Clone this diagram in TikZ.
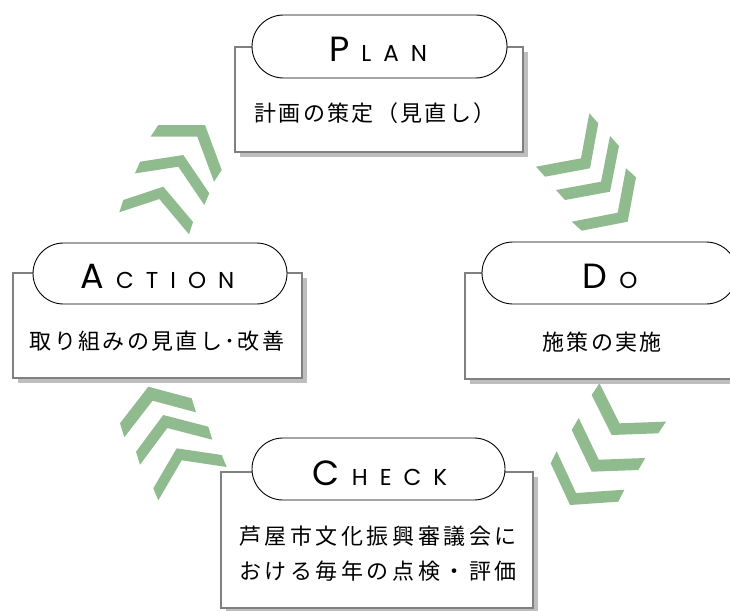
\documentclass[tikz,border=0pt]{standalone}
\usepackage{fontspec}
\setmainfont{Poppins}
\newfontfamily\jp{Noto Sans CJK JP}[LetterSpace=10.5]
\newfontfamily\jpw{Noto Sans CJK JP}[LetterSpace=16]
\usetikzlibrary{calc,shadows,shapes.misc}
\definecolor{chevgreen}{RGB}{143,187,143}
\definecolor{boxgray}{RGB}{128,128,128}
\definecolor{shadowgray}{RGB}{190,190,190}
\newcommand\bigltr[1]{{\fontsize{35}{35}\selectfont #1}}
\newcommand\smltr[1]{{\fontsize{23}{23}\selectfont #1}}
\newcommand\gp{\hspace{12pt}}
\newcommand\mychev[8]{\fill[chevron] (#3,#4) -- (#1,#2) -- (#5,#6) -- ($(#5,#6)-(#7,#8)$) -- ($(#1,#2)-(#7,#8)$) -- ($(#3,#4)-(#7,#8)$) -- cycle;}
\begin{document}
\begin{tikzpicture}[x=1pt,y=-1pt,
  box/.style={draw=boxgray, line width=1.5pt, fill=white, inner sep=0pt,
    drop shadow={shadow xshift=5pt, shadow yshift=-5pt, fill=shadowgray, opacity=1}},
  pill/.style={draw=black, line width=0.9pt, fill=white, rounded rectangle, inner sep=0pt},
  chevron/.style={fill=chevgreen},
  title/.style={anchor=base, inner sep=0pt},
  body/.style={inner sep=0pt, font=\jp\fontsize{22}{33}\selectfont, align=center}]
\clip (0,0) rectangle (730,610);
% chevrons: top right
\mychev{590}{168.3}{598.3}{123.3}{545}{176.7}{9}{10}
\mychev{610}{191.7}{619}{146}{565}{200}{9}{10}
\mychev{627.7}{221.7}{636}{177.3}{581.7}{230.7}{10}{9}
% top left
\mychev{205}{125}{158.3}{125}{221.7}{170}{7.7}{-11.7}
\mychev{183.3}{155}{140}{161.7}{209.3}{193.3}{5}{-11.7}
\mychev{163.3}{186.7}{123.3}{200}{193}{222}{4}{-12.3}
% bottom left
\mychev{148.3}{386.7}{191.7}{398.3}{120}{423.3}{-4.3}{-14}
\mychev{163.3}{415}{208.3}{426.7}{136}{451.7}{-4}{-13}
\mychev{176.7}{448.3}{221.7}{455}{153.3}{488.3}{-5}{-12}
% bottom right
\mychev{611.7}{435}{591.7}{395}{658.3}{433.3}{-7.7}{11.7}
\mychev{591.7}{471.7}{571.7}{430}{638.3}{470}{-7}{12}
\mychev{570}{505}{550.7}{463.3}{618.3}{501.7}{-6}{12}
% boxes
\node[box, minimum width=288pt, minimum height=105pt] (planbox) at (379,99.5) {};
\node[box, minimum width=289pt, minimum height=105pt] (actbox) at (157.5,325.5) {};
\node[box, minimum width=290pt, minimum height=106pt] (dobox) at (610,326) {};
\node[box, minimum width=312pt, minimum height=136pt] (checkbox) at (377,540) {};
% pills
\node[pill, minimum width=255pt, minimum height=63pt] (planpill) at (379.5,46.5) {};
\node[pill, minimum width=254pt, minimum height=61pt] (actpill) at (160,273.5) {};
\node[pill, minimum width=255pt, minimum height=62pt] (dopill) at (609.5,273) {};
\node[pill, minimum width=253pt, minimum height=62pt] (checkpill) at (378.5,469) {};
% titles
\node[title] (plantitle) at (378,62) {\bigltr{P}\gp\smltr{L\gp A\gp N}};
\node[title] (acttitle) at (157.5,288) {\bigltr{A}\gp\smltr{C\gp T\gp I\gp O\gp N}};
\node[title] (dotitle) at (610,288) {\bigltr{D}\gp\smltr{O}};
\node[title] (checktitle) at (380,485) {\bigltr{C}\gp\smltr{H\gp E\gp C\gp K}};
% bodies
\node[body] (planbody) at (375,113) {計画の策定（見直し）};
\node[body] (actbody) at (157,341) {取り組みの見直し･改善};
\node[body] (dobody) at (602,342) {施策の実施};
\node[body, font=\jpw\fontsize{22}{35}\selectfont] (checkbody) at (378,553.5) {芦屋市文化振興審議会に\\おける毎年の点検・評価};
\end{tikzpicture}
\end{document}
